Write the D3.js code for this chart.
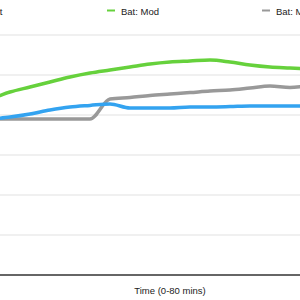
<script src="https://d3js.org/d3.v7.min.js"></script>
<style>
  body { margin: 0; background: #fff; }
  svg { display: block; font-family: "Liberation Sans", Arial, sans-serif; }
</style>
<svg id="chart" width="300" height="300"></svg>
<script>
// minutes, sampled every 4 mins
var times = [0,4,8,12,16,20,24,28,32,36,40,44,48,52,56,60,64,68,72,76,80];
// series values
var batStat = [39,39,39.5,40.25,41.25,42,42.4,42.75,41.75,41.75,41.75,42,42,42.1,42.25,42.25,42.25,42.25,42.25,42.25,42.25];
var batMod  = [42.75,44,45.75,47,48.25,49.5,50.5,51.25,52,52.75,53.25,53.5,53.75,53.25,52.5,52,51.75,51.5,51.25,51.25,51];
var batMax  = [39,39,39,39,39,39,39,44,44.4,44.9,45.25,45.6,46,46.25,46.75,47.25,46.9,47.25,47.25,47.4,47.5];
var seriesNames = ["Bat: Stat", "Bat: Mod", "Bat: Max"];
var seriesColors = ["#33a3f0", "#66d13c", "#999999"];
var gridTicks = [10,20,30,40,50,60];

var svg = d3.select("#chart");

// plot is wider than the window, like the cropped original
var x = d3.scaleLinear().domain([0, 80]).range([-30, 370]);
var y = d3.scaleLinear().domain([0, 60]).range([275, 35]);

// gridlines
svg.selectAll(".grid")
  .data(gridTicks)
  .enter()
  .append("line")
  .attr("x1", 0)
  .attr("x2", 300)
  .attr("y1", function(d) { return y(d); })
  .attr("y2", function(d) { return y(d); })
  .attr("stroke", "#e2e2e2")
  .attr("stroke-width", 1.2);

// baseline
svg.append("line")
  .attr("x1", 0)
  .attr("x2", 300)
  .attr("y1", y(0))
  .attr("y2", y(0))
  .attr("stroke", "#333")
  .attr("stroke-width", 1.3);

var line = d3.line()
  .x(function(d) { return x(d[0]); })
  .y(function(d) { return y(d[1]); })
  .curve(d3.curveMonotoneX);

var allSeries = [batStat, batMod, batMax];
// draw gray first, then blue, then green on top
[2, 0, 1].forEach(function(i) {
  svg.append("path")
    .attr("d", line(times.map(function(t, j) { return [t, allSeries[i][j]]; })))
    .attr("fill", "none")
    .attr("stroke", seriesColors[i])
    .attr("stroke-width", 3.5)
    .attr("stroke-linejoin", "round");
});

// legend
var legendX = [-48, 107, 262];
seriesNames.forEach(function(name, i) {
  svg.append("line")
    .attr("x1", legendX[i])
    .attr("x2", legendX[i] + 8)
    .attr("y1", 10.5)
    .attr("y2", 10.5)
    .attr("stroke", seriesColors[i])
    .attr("stroke-width", 2);
  svg.append("text")
    .attr("x", legendX[i] + 14)
    .attr("y", 14.5)
    .attr("font-size", "9.5px")
    .attr("fill", "#222")
    .text(name);
});

// axis title
svg.append("text")
  .attr("x", 170)
  .attr("y", 294)
  .attr("text-anchor", "middle")
  .attr("font-size", "9.5px")
  .attr("fill", "#222")
  .text("Time (0-80 mins)");
</script>
